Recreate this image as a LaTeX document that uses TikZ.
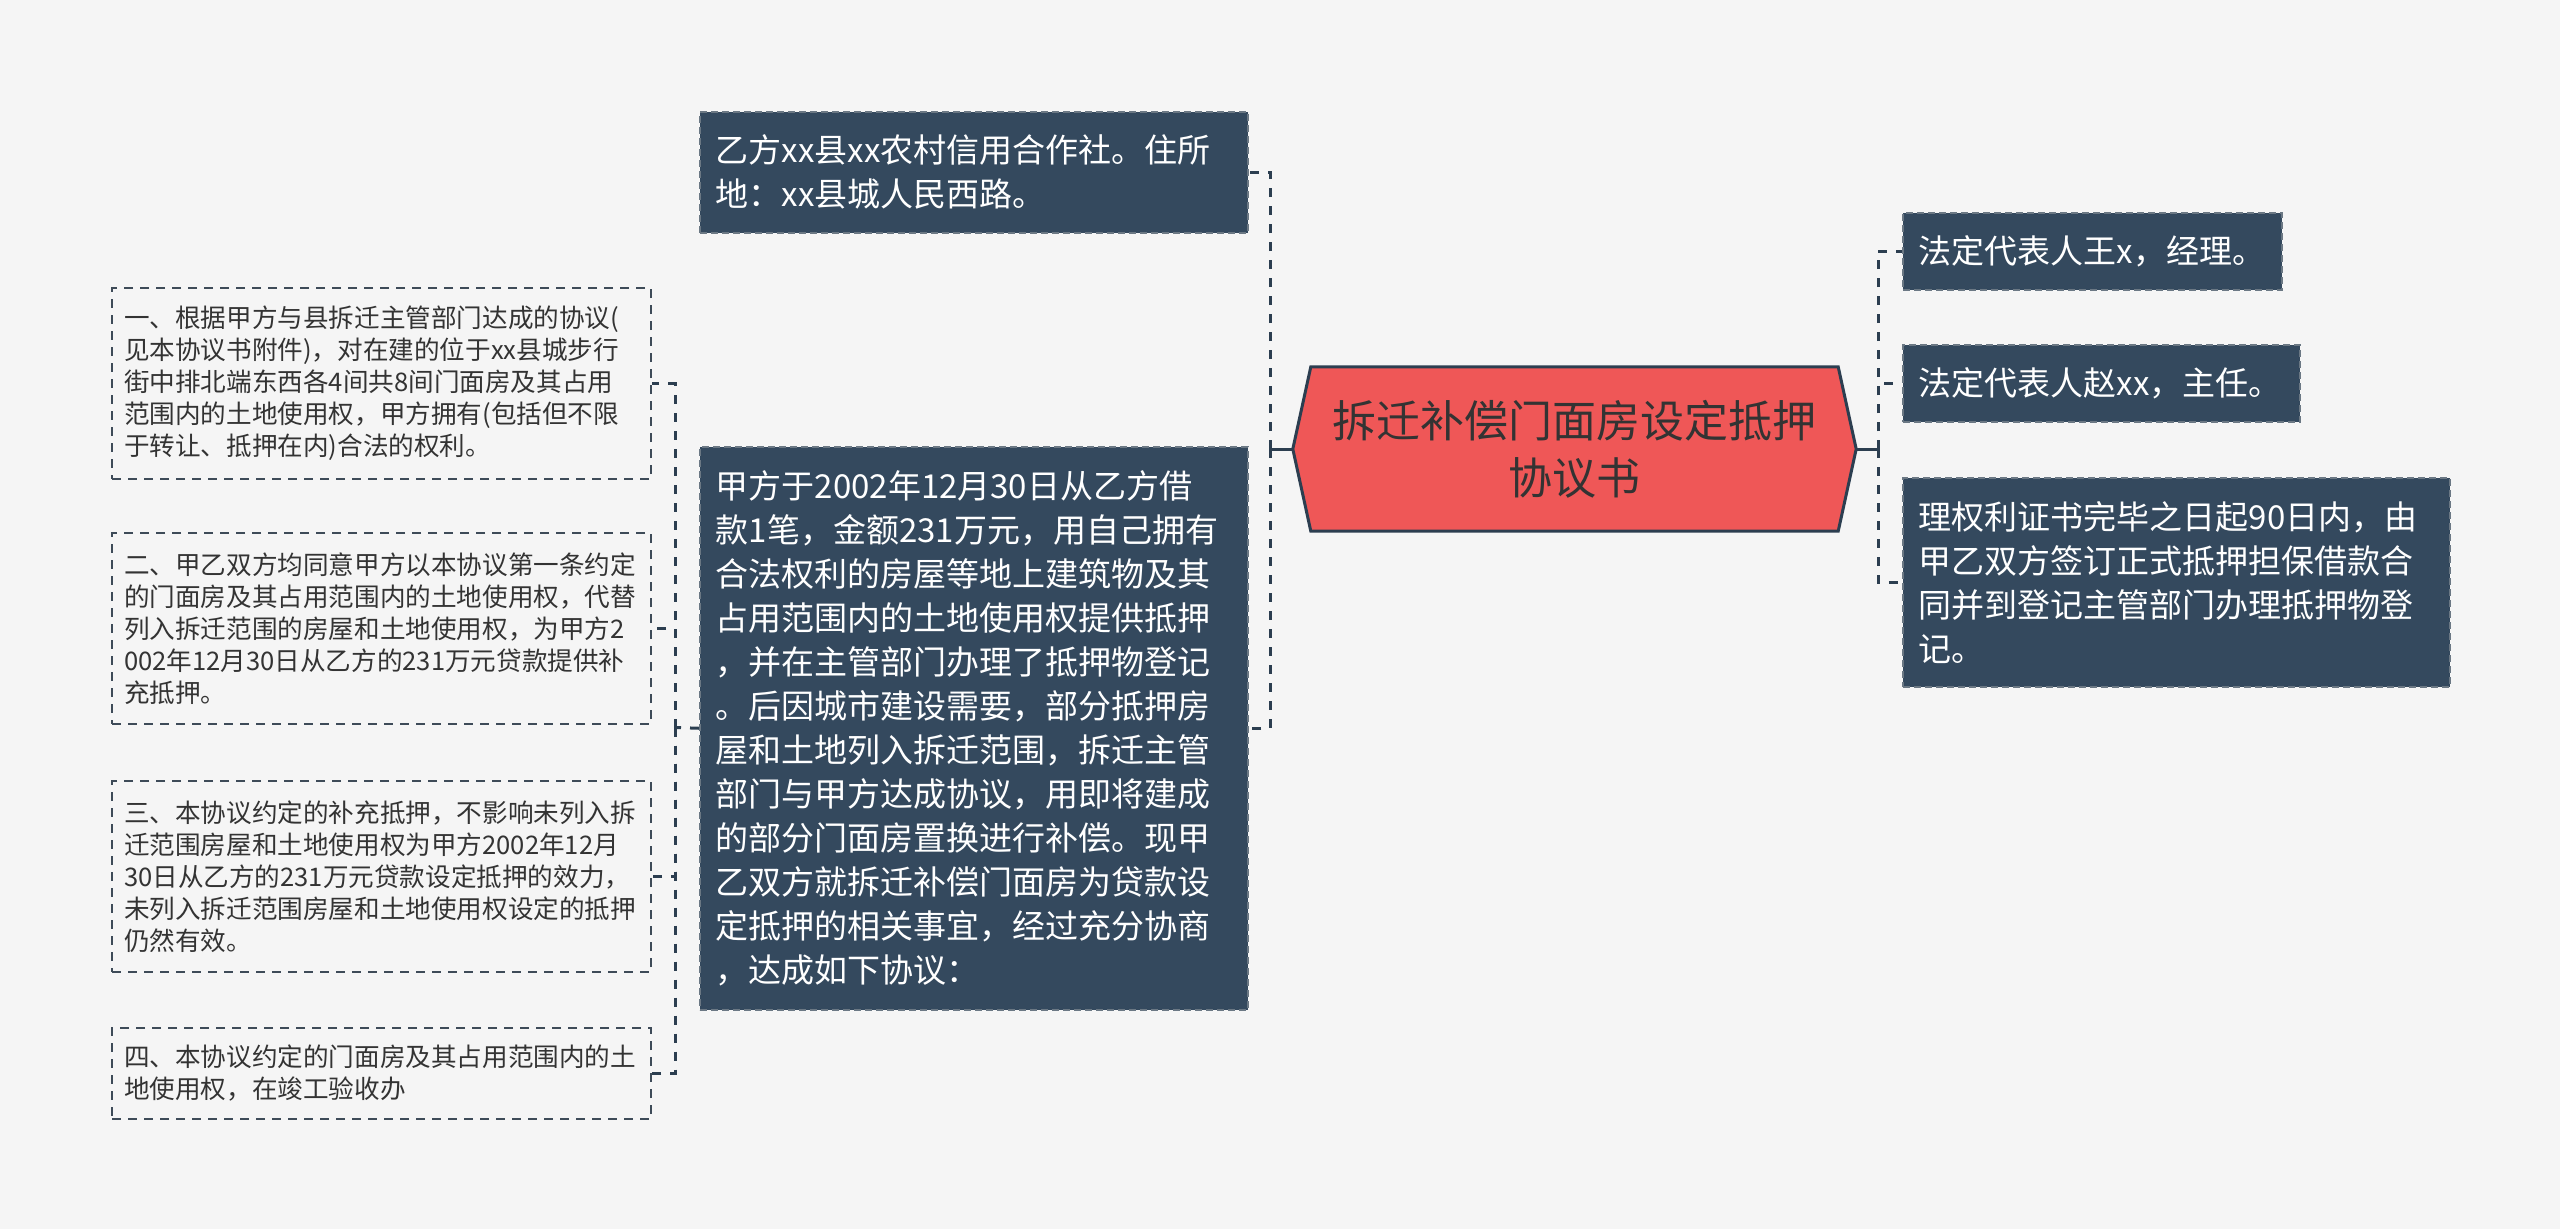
\documentclass[tikz,border=0pt]{standalone}
\usepackage{fontspec}
\setmainfont{Noto Sans CJK SC}
\usetikzlibrary{backgrounds}
\definecolor{bgc}{HTML}{F5F5F5}
\definecolor{navy}{HTML}{34495E}
\definecolor{navyline}{HTML}{2C3E50}
\definecolor{rootred}{HTML}{EF5757}
\definecolor{txtdark}{HTML}{333333}
\definecolor{lboxline}{HTML}{3E4B58}
\tikzset{
  darkbox/.style={fill=navy, draw=navyline!70!white, line width=1.5pt,
    dash pattern=on 7pt off 4pt, anchor=north west, inner xsep=16pt, inner ysep=0pt,
    text=white, align=left, font=\fontsize{33}{44}\selectfont},
  lightbox/.style={draw=lboxline, line width=2pt, dash pattern=on 9pt off 7pt,
    anchor=north west, inner xsep=12pt, inner ysep=0pt, text=txtdark, align=left,
    font=\fontsize{25.6}{32}\selectfont},
  rootbox/.style={inner sep=0pt, text=txtdark, align=center, text width=530pt,
    minimum width=563pt, minimum height=164pt, font=\fontsize{44}{57}\selectfont},
  solidc/.style={draw=navyline, line width=3pt},
  dashc/.style={draw=navyline, line width=3pt, dash pattern=on 9pt off 9pt},
}
\begin{document}
\begin{tikzpicture}[x=1pt,y=-1pt]
\useasboundingbox (0,0) rectangle (2560,1229);

% root
\node[rootbox] (c) at (1574.5,449) {拆迁补偿门面房设定抵押\\协议书};
\begin{scope}[on background layer]
\fill[bgc] (0,0) rectangle (2560,1229);
\filldraw[fill=rootred, draw=navyline, line width=3pt, line join=miter]
  ([xshift=18pt]c.north west) -- ([xshift=-18pt]c.north east) -- (c.east)
  -- ([xshift=-18pt]c.south east) -- ([xshift=18pt]c.south west) -- (c.west) -- cycle;
\end{scope}

% left of root
\node[darkbox, text width=516pt, minimum width=548pt, minimum height=121pt] (p1) at (699,111)
  {乙方xx县xx农村信用合作社。住所\\地：xx县城人民西路。};
\node[darkbox, text width=516pt, minimum width=548pt, minimum height=563pt] (p2) at (699,446)
  {甲方于2002年12月30日从乙方借\\款1笔，金额231万元，用自己拥有\\合法权利的房屋等地上建筑物及其\\占用范围内的土地使用权提供抵押\\，并在主管部门办理了抵押物登记\\。后因城市建设需要，部分抵押房\\屋和土地列入拆迁范围，拆迁主管\\部门与甲方达成协议，用即将建成\\的部分门面房置换进行补偿。现甲\\乙双方就拆迁补偿门面房为贷款设\\定抵押的相关事宜，经过充分协商\\，达成如下协议：};

% right of root
\node[darkbox, text width=347pt, minimum width=379pt, minimum height=77pt] (r1) at (1902,212)
  {法定代表人王x，经理。};
\node[darkbox, text width=365pt, minimum width=397pt, minimum height=77pt] (r2) at (1902,344)
  {法定代表人赵xx，主任。};
\node[darkbox, text width=515pt, minimum width=547pt, minimum height=209pt] (r3) at (1902,477)
  {理权利证书完毕之日起90日内，由\\甲乙双方签订正式抵押担保借款合\\同并到登记主管部门办理抵押物登\\记。};

% left of big box
\node[lightbox, text width=515pt, minimum width=539pt, minimum height=191pt] (l1) at (111,287)
  {一、根据甲方与县拆迁主管部门达成的协议(\\见本协议书附件)，对在建的位于xx县城步行\\街中排北端东西各4间共8间门面房及其占用\\范围内的土地使用权，甲方拥有(包括但不限\\于转让、抵押在内)合法的权利。};
\node[lightbox, text width=515pt, minimum width=539pt, minimum height=191pt] (l2) at (111,532)
  {二、甲乙双方均同意甲方以本协议第一条约定\\的门面房及其占用范围内的土地使用权，代替\\列入拆迁范围的房屋和土地使用权，为甲方2\\002年12月30日从乙方的231万元贷款提供补\\充抵押。};
\node[lightbox, text width=515pt, minimum width=539pt, minimum height=191pt] (l3) at (111,780)
  {三、本协议约定的补充抵押，不影响未列入拆\\迁范围房屋和土地使用权为甲方2002年12月\\30日从乙方的231万元贷款设定抵押的效力，\\未列入拆迁范围房屋和土地使用权设定的抵押\\仍然有效。};
\node[lightbox, text width=515pt, minimum width=539pt, minimum height=91pt] (l4) at (111,1027)
  {四、本协议约定的门面房及其占用范围内的土\\地使用权，在竣工验收办};

% connectors
\coordinate (sl) at (1270,449);
\coordinate (sr) at (1878,449);
\coordinate (sb) at (675,727.5);
\draw[solidc] (c.west) -- (sl);
\draw[dashc] (sl) |- (p1.east);
\draw[dashc] (sl) |- (p2.east);
\draw[solidc] (c.east) -- (sr);
\draw[dashc] (sr) |- (r1.west);
\draw[dashc] (sr) |- (r2.west);
\draw[dashc] (sr) |- (r3.west);
\draw[dashc] (p2.west) -- (sb);
\draw[dashc] (sb) |- (l1.east);
\draw[dashc] (sb) |- (l2.east);
\draw[dashc] (sb) |- (l3.east);
\draw[dashc] (sb) |- (l4.east);
\end{tikzpicture}
\end{document}
